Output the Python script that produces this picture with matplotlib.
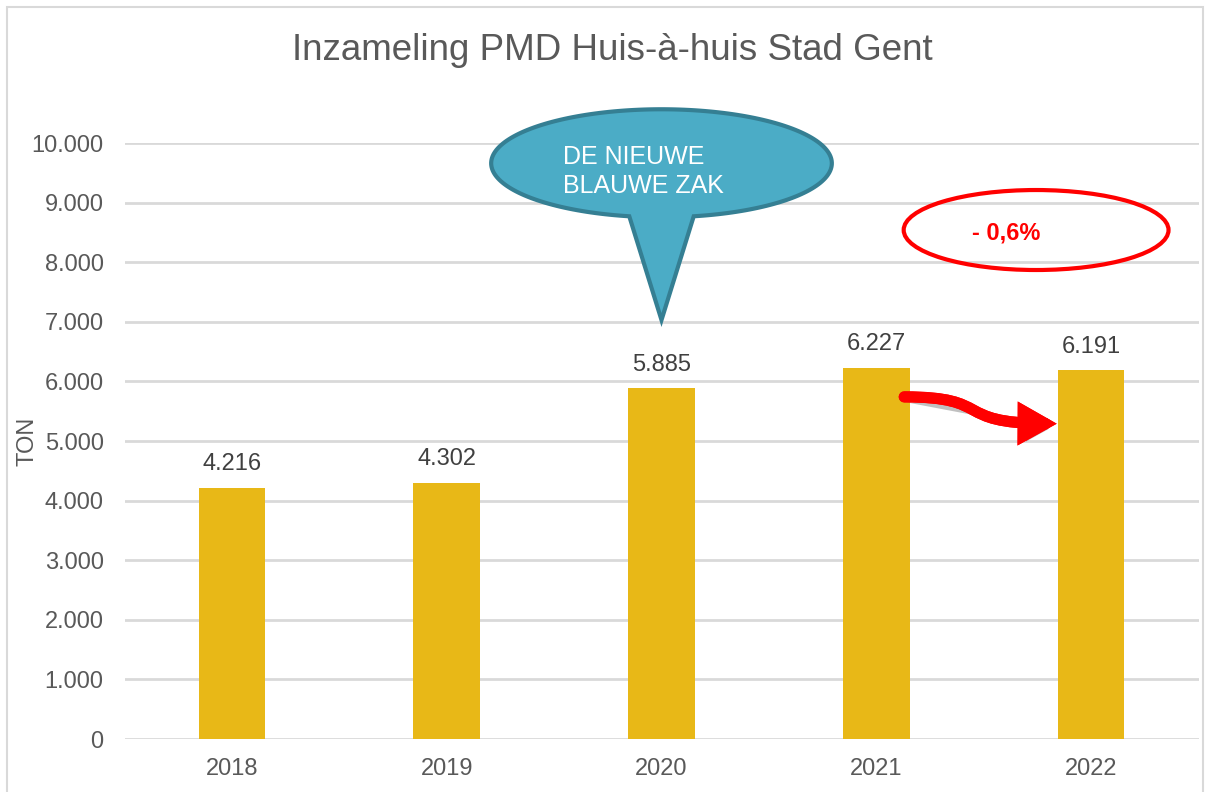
import matplotlib
matplotlib.use('Agg')

import numpy as np
import matplotlib.pyplot as plt
from matplotlib.patches import Ellipse, Polygon, Rectangle, FancyArrowPatch
from matplotlib.path import Path
import matplotlib.patheffects as pe

plt.rcParams['font.family'] = ['Liberation Sans', 'DejaVu Sans']

years = ['2018', '2019', '2020', '2021', '2022']
tonnage = [4216, 4302, 5885, 6227, 6191]
y_ticks = [0, 1000, 2000, 3000, 4000, 5000, 6000, 7000, 8000, 9000, 10000]

title = 'Inzameling PMD Huis-à-huis Stad Gent'
callout_text = 'DE NIEUWE\nBLAUWE ZAK'
change_text = '- 0,6%'

BAR = '#E8B817'
GRID = '#D9D9D9'
TXT = '#595959'


def dotted(v):
    return f'{int(v):,}'.replace(',', '.')


W, H = 1213, 792
fig = plt.figure(figsize=(W / 100, H / 100), dpi=100)

# outer chart border (light grey frame)
fig.patches.append(Rectangle((7 / W, -0.05), (1203 - 7) / W, 1.05 - 7 / H,
                             transform=fig.transFigure, fill=False,
                             edgecolor='#D9D9D9', linewidth=1.5))

ax = fig.add_axes([124.5 / W, 1 - 739 / H, (1198.5 - 124.5) / W, (739 - 143) / H])
x = np.arange(len(years))
bars = ax.bar(x, tonnage, width=0.31, color=BAR, zorder=3)
ax.bar_label(bars, labels=[dotted(v) for v in tonnage], padding=9,
             fontsize=17, color='#404040')

ax.set_xlim(-0.5, len(years) - 0.5)
ax.set_ylim(0, 10000)
ax.set_yticks(y_ticks)
ax.set_yticklabels([dotted(v) for v in y_ticks])
ax.set_xticks(x)
ax.set_xticklabels(years)
ax.tick_params(axis='both', length=0, labelsize=17, labelcolor=TXT)
ax.tick_params(axis='y', pad=15)
ax.tick_params(axis='x', pad=14)
ax.grid(axis='y', color=GRID, linewidth=2, zorder=0)
ax.set_axisbelow(True)
for s in ax.spines.values():
    s.set_visible(False)
fig.text(27 / W, 1 - 441 / H, 'TON', rotation=90, ha='center', va='center',
         fontsize=17, color=TXT)

fig.text(612 / W, 1 - 50 / H, title, ha='center', va='center',
         fontsize=26.5, color=TXT)

# speech-bubble callout above 2020
cx, cy, a, b = 2.0, 9660, 0.793, 906
tip = (2.0, 7030)
attach = 0.15
t0 = np.arccos(attach / a)
theta = np.linspace(-t0, -np.pi + t0 + 2 * np.pi, 200)
pts = [(cx + a * np.cos(t), cy + b * np.sin(t)) for t in theta]
pts.append(tip)
bubble = Polygon(pts, closed=True, facecolor='#4BACC6', edgecolor='#357F93',
                 linewidth=3, clip_on=False, zorder=5)
ax.add_patch(bubble)
ax.text(1.54, 9520, callout_text, ha='left', va='center', fontsize=18,
        color='white', linespacing=1.25, zorder=6)

# red ellipse with percentage change
ax.add_patch(Ellipse((3.744, 8540), 1.233, 1342, fill=False, edgecolor='#FF0000',
                     linewidth=3, clip_on=False, zorder=5))
ax.text(3.605, 8490, change_text, ha='center', va='center', fontsize=17,
        fontweight='bold', color='#FF0000', zorder=6)

# curved red arrow from 2021 to 2022
verts = [(3.13, 5740), (3.55, 5740), (3.35, 5300), (3.84, 5290)]
codes = [Path.MOVETO, Path.CURVE4, Path.CURVE4, Path.CURVE4]
arrow = FancyArrowPatch(path=Path(verts, codes),
                        arrowstyle='-|>,head_length=0.8,head_width=0.45',
                        color='#FF0000', linewidth=8, mutation_scale=20,
                        joinstyle='miter', zorder=6)
arrow.set_path_effects([pe.withSimplePatchShadow(offset=(2, -4), alpha=0.35),
                        pe.Normal()])
ax.add_patch(arrow)

fig.savefig('out.png', dpi=100)
